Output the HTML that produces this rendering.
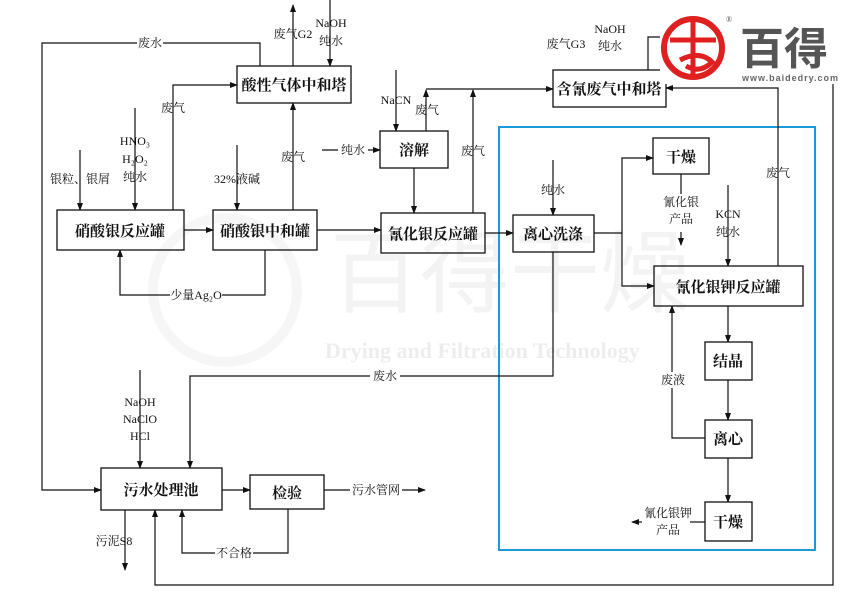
<!DOCTYPE html>
<html><head><meta charset="utf-8"><style>
html,body{margin:0;padding:0;background:#fff;}
svg{display:block;}
text{font-family:"Liberation Serif","Noto Serif CJK SC","Noto Sans CJK SC",serif;fill:#111;}
.b{font-size:15px;font-weight:bold;}
.s{font-size:12px;}
</style></head><body>
<svg width="850" height="600" viewBox="0 0 850 600" xmlns="http://www.w3.org/2000/svg">
<defs>
<marker id="a" markerWidth="8" markerHeight="8" refX="7" refY="4" orient="auto" markerUnits="userSpaceOnUse">
<path d="M0,1 L8,4 L0,7 Z" fill="#111"/></marker>
</defs>
<!-- watermark -->
<g opacity="0.08" fill="none" stroke="#888" stroke-width="10">
<circle cx="225" cy="290" r="72"/>
</g>
<text x="330" y="305" style="font-size:90px;fill:#f3f3f3;font-family:'Noto Sans CJK SC',sans-serif;">百得干燥</text>
<text x="325" y="358" style="font-size:22px;fill:#ededed;font-weight:bold;">Drying and Filtration Technology</text>

<g fill="none" stroke="#111" stroke-width="1.3">
<rect x="237" y="66" width="114" height="37"/>
<rect x="553" y="70" width="113" height="37"/>
<rect x="57" y="210" width="127" height="40"/>
<rect x="213" y="210" width="104" height="40"/>
<rect x="380" y="131" width="68" height="37"/>
<rect x="381" y="213" width="104" height="40"/>
<rect x="513" y="215" width="81" height="37"/>
<rect x="653" y="138" width="56" height="36"/>
<rect x="654" y="266" width="149" height="40"/>
<rect x="705" y="342" width="47" height="38"/>
<rect x="705" y="420" width="47" height="38"/>
<rect x="705" y="502" width="47" height="39"/>
<rect x="101" y="468" width="121" height="42"/>
<rect x="250" y="475" width="74" height="34"/>
</g>
<rect x="499" y="127" width="316" height="423" fill="none" stroke="#1a9ad6" stroke-width="2"/>

<g fill="none" stroke="#111" stroke-width="1.2">
<path d="M260,66 V43 H42 V490 H101" marker-end="url(#a)"/>
<path d="M293,66 V5" marker-end="url(#a)"/>
<path d="M330,0 V66" marker-end="url(#a)"/>
<path d="M173,210 V85 H237" marker-end="url(#a)"/>
<path d="M135,108 V210" marker-end="url(#a)"/>
<path d="M80,150 V210" marker-end="url(#a)"/>
<path d="M237,145 V210" marker-end="url(#a)"/>
<path d="M293,210 V103" marker-end="url(#a)"/>
<path d="M184,230 H213" marker-end="url(#a)"/>
<path d="M317,230 H381" marker-end="url(#a)"/>
<path d="M265,250 V295 H120 V250" marker-end="url(#a)"/>
<path d="M322,150 H380" marker-end="url(#a)"/>
<path d="M396,70 V131" marker-end="url(#a)"/>
<path d="M426,131 V90" marker-end="url(#a)"/>
<path d="M426,89 H553" marker-end="url(#a)"/>
<path d="M473,213 V90" marker-end="url(#a)"/>
<path d="M414,168 V213" marker-end="url(#a)"/>
<path d="M485,233 H513" marker-end="url(#a)"/>
<path d="M553,160 V215" marker-end="url(#a)"/>
<path d="M594,233 H622 V158 H653" marker-end="url(#a)"/>
<path d="M622,233 V286 H654" marker-end="url(#a)"/>
<path d="M681,174 V194"/>
<path d="M681,232 V245" marker-end="url(#a)"/>
<path d="M728,185 V266" marker-end="url(#a)"/>
<path d="M778,266 V88 H666" marker-end="url(#a)"/>
<path d="M648,70 V37 H833 V585 H155 V510" marker-end="url(#a)"/>
<path d="M728,306 V342" marker-end="url(#a)"/>
<path d="M728,380 V420" marker-end="url(#a)"/>
<path d="M728,458 V502" marker-end="url(#a)"/>
<path d="M705,438 H672 V306" marker-end="url(#a)"/>
<path d="M705,522 H690"/>
<path d="M632,522 H642" marker-end="url(#a)" transform="rotate(180 637 522)"/>
<path d="M553,252 V376 H190 V468" marker-end="url(#a)"/>
<path d="M140,370 V468" marker-end="url(#a)"/>
<path d="M222,490 H250" marker-end="url(#a)"/>
<path d="M324,490 H425" marker-end="url(#a)"/>
<path d="M288,509 V553 H182 V510" marker-end="url(#a)"/>
<path d="M125,510 V570" marker-end="url(#a)"/>
</g>

<g fill="#fff">
<rect x="137" y="36" width="26" height="14"/>
<rect x="170" y="288" width="52" height="14"/>
<rect x="338" y="143" width="30" height="14"/>
<rect x="370" y="369" width="30" height="14"/>
<rect x="350" y="483" width="52" height="14"/>
<rect x="215" y="546" width="38" height="14"/>
<rect x="648" y="515" width="42" height="30"/>
<rect x="663" y="372" width="20" height="16"/>
</g>

<g class="b" text-anchor="middle">
<text x="294" y="90">酸性气体中和塔</text>
<text x="609" y="94">含氰废气中和塔</text>
<text x="120" y="236">硝酸银反应罐</text>
<text x="265" y="236">硝酸银中和罐</text>
<text x="414" y="155">溶解</text>
<text x="433" y="239">氰化银反应罐</text>
<text x="553" y="239">离心洗涤</text>
<text x="681" y="162">干燥</text>
<text x="728" y="292">氰化银钾反应罐</text>
<text x="728" y="366">结晶</text>
<text x="728" y="444">离心</text>
<text x="728" y="527">干燥</text>
<text x="161" y="495">污水处理池</text>
<text x="287" y="498">检验</text>
</g>
<g class="s" text-anchor="middle">
<text x="150" y="47">废水</text>
<text x="293" y="38">废气G2</text>
<text x="331" y="27">NaOH</text>
<text x="331" y="45">纯水</text>
<text x="173" y="112">废气</text>
<text x="135" y="145" style="font-family:'Liberation Serif',serif">HNO₃</text>
<text x="135" y="163" style="font-family:'Liberation Serif',serif">H₂O₂</text>
<text x="135" y="181">纯水</text>
<text x="80" y="183">银粒、银屑</text>
<text x="237" y="183">32%液碱</text>
<text x="293" y="161">废气</text>
<text x="196" y="299">少量Ag₂O</text>
<text x="353" y="154">纯水</text>
<text x="396" y="104">NaCN</text>
<text x="427" y="114">废气</text>
<text x="473" y="155">废气</text>
<text x="566" y="48">废气G3</text>
<text x="610" y="33">NaOH</text>
<text x="610" y="50">纯水</text>
<text x="553" y="194">纯水</text>
<text x="681" y="206">氰化银</text>
<text x="681" y="223">产品</text>
<text x="728" y="218">KCN</text>
<text x="728" y="236">纯水</text>
<text x="778" y="177">废气</text>
<text x="673" y="384">废液</text>
<text x="668" y="517">氰化银钾</text>
<text x="668" y="534">产品</text>
<text x="385" y="380">废水</text>
<text x="140" y="406">NaOH</text>
<text x="140" y="423">NaClO</text>
<text x="140" y="440">HCl</text>
<text x="376" y="494">污水管网</text>
<text x="234" y="557">不合格</text>
<text x="114" y="545">污泥S8</text>
</g>

<rect x="660" y="14" width="178" height="70" fill="#fff"/>
<circle cx="693" cy="48" r="29" fill="none" stroke="#e02020" stroke-width="6"/>
<path d="M670,40 H716 M693,22 V76 M680,60 Q700,50 712,62 Q700,74 686,66" fill="none" stroke="#e02020" stroke-width="5"/>
<text x="740" y="64" style="font-size:44px;font-weight:bold;fill:#555;font-family:'Noto Sans CJK SC',sans-serif;">百得</text>
<text x="742" y="81" style="font-size:9px;font-weight:bold;fill:#666;font-family:'Liberation Sans',sans-serif;letter-spacing:1px;">www.baidedry.com</text>
<text x="726" y="22" style="font-size:8px;fill:#555;">®</text>
</svg>
</body></html>
